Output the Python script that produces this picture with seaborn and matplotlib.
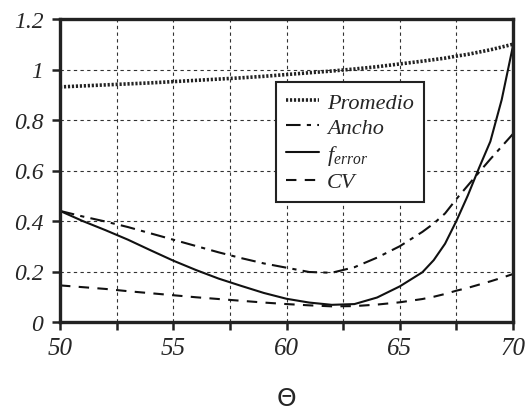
import matplotlib
matplotlib.use("Agg")
import matplotlib.pyplot as plt
import seaborn as sns
import numpy as np
import pandas as pd

# Angle values (degrees)
theta = [50, 51, 52, 53, 54, 55, 56, 57, 58, 59, 60, 61, 62, 63, 64, 65, 66,
         66.5, 67, 67.5, 68, 68.5, 69, 69.5, 70]

promedio = [0.931, 0.935, 0.939, 0.943, 0.947, 0.952, 0.957, 0.962, 0.967, 0.973,
            0.980, 0.987, 0.994, 1.002, 1.011, 1.022, 1.033,
            1.039, 1.045, 1.053, 1.060, 1.069, 1.078, 1.089, 1.100]

ancho = [0.440, 0.418, 0.398, 0.376, 0.351, 0.326, 0.301, 0.276, 0.253, 0.232,
         0.215, 0.198, 0.195, 0.217, 0.255, 0.300, 0.357,
         0.390, 0.430, 0.487, 0.540, 0.593, 0.645, 0.695, 0.745]

f_error = [0.440, 0.400, 0.364, 0.326, 0.284, 0.243, 0.206, 0.172, 0.143, 0.115,
           0.092, 0.077, 0.068, 0.071, 0.097, 0.141, 0.197,
           0.245, 0.310, 0.400, 0.500, 0.610, 0.715, 0.880, 1.094]

cv = [0.145, 0.138, 0.131, 0.122, 0.114, 0.106, 0.098, 0.091, 0.084, 0.077,
      0.071, 0.066, 0.062, 0.063, 0.069, 0.078, 0.091,
      0.100, 0.111, 0.124, 0.135, 0.148, 0.161, 0.175, 0.190]

x_ticks = [50, 55, 60, 65, 70]
y_ticks = [0, 0.2, 0.4, 0.6, 0.8, 1, 1.2]
y_tick_labels = ["0", "0.2", "0.4", "0.6", "0.8", "1", "1.2"]

sns.set_theme(style="ticks")
plt.rcParams["font.family"] = ["Liberation Serif", "DejaVu Serif"]
plt.rcParams["font.style"] = "italic"
plt.rcParams["mathtext.fontset"] = "custom"
plt.rcParams["mathtext.it"] = "Liberation Serif:italic"
plt.rcParams["mathtext.rm"] = "Liberation Serif:italic"

fig = plt.figure(figsize=(5.3, 4.1), dpi=100)
ax = fig.add_axes([60 / 530, 1 - 323 / 410, (513 - 60) / 530, (323 - 20) / 410])

df = pd.DataFrame({"theta": theta, "Promedio": promedio, "Ancho": ancho,
                   "ferr": f_error, "CV": cv})

sns.lineplot(data=df, x="theta", y="Promedio", ax=ax, color="#222222",
             linewidth=2.6, linestyle=(0, (0.6, 0.5)), label="Promedio")
sns.lineplot(data=df, x="theta", y="Ancho", ax=ax, color="#111111",
             linewidth=1.5, linestyle=(0, (7, 3, 2, 3)), label="Ancho")
sns.lineplot(data=df, x="theta", y="ferr", ax=ax, color="#111111",
             linewidth=1.5, linestyle="-", label=r"$f_{error}$")
sns.lineplot(data=df, x="theta", y="CV", ax=ax, color="#111111",
             linewidth=1.5, linestyle=(0, (5, 4)), label="CV")

ax.set_xlim(50, 70)
ax.set_ylim(0, 1.2)
ax.set_xticks(x_ticks)
ax.set_xticks([52.5, 57.5, 62.5, 67.5], minor=True)
ax.set_yticks(y_ticks)
ax.set_yticklabels(y_tick_labels)

ax.grid(True, which="both", axis="x", color="#333333", linestyle=(0, (3, 3)), linewidth=0.8)
ax.grid(True, which="major", axis="y", color="#333333", linestyle=(0, (3, 3)), linewidth=0.8)

for side in ["left", "bottom", "right", "top"]:
    ax.spines[side].set_visible(True)
    ax.spines[side].set_linewidth(2.4)
    ax.spines[side].set_color("#222222")

ax.tick_params(axis="both", which="both", direction="out", length=6, width=1.8,
               color="#222222", top=False, right=False)
ax.tick_params(axis="y", labelsize=17, pad=6)
ax.tick_params(axis="x", labelsize=18, pad=5)
for lbl in ax.get_xticklabels() + ax.get_yticklabels():
    lbl.set_fontfamily("Liberation Serif")
    lbl.set_fontstyle("italic")

ax.set_ylabel("")
ax.set_xlabel("Θ", fontfamily="DejaVu Sans", fontstyle="normal", fontsize=18, labelpad=19)

leg = ax.legend(loc="upper left", bbox_to_anchor=((276 - 60) / 453, 1 - (83 - 20) / 303),
                fontsize=16, frameon=True, fancybox=False, handlelength=1.5,
                handletextpad=0.35, borderpad=0.45, labelspacing=0.22,
                borderaxespad=0)
leg.get_frame().set_edgecolor("#222222")
leg.get_frame().set_linewidth(1.5)
leg.get_frame().set_alpha(1)
for t in leg.get_texts():
    t.set_fontfamily("Liberation Serif")
    t.set_fontstyle("italic")

fig.savefig("out.png", dpi=100)
